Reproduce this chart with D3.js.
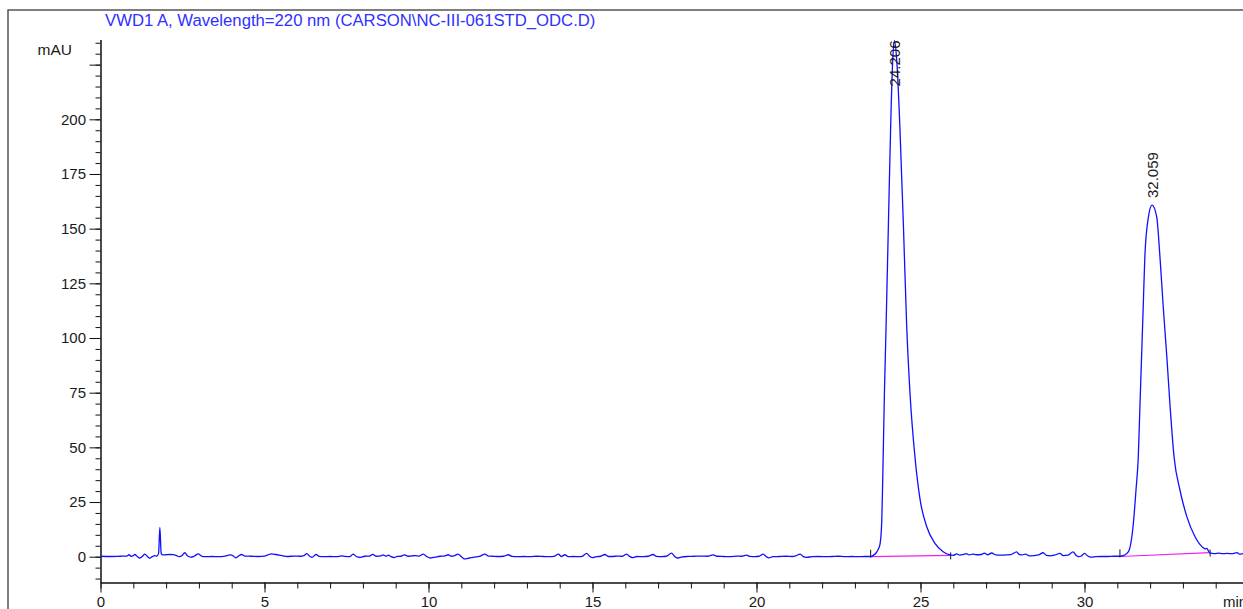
<!DOCTYPE html>
<html>
<head>
<meta charset="utf-8">
<script src="https://cdn.jsdelivr.net/npm/d3@7"></script>
<style>
    body { margin: 0; background: #fff; }
    svg { display: block; font-family: "Liberation Sans", Arial, sans-serif; }
</style>
</head>
<body>
<div class="chart"></div>
<script>
// detector trace: [minutes, mAU]
var trace = [
    [0, 0.2], [0.3, 0.1], [0.6, 0.2], [0.8, 0.3], [0.87, 0.9], [0.93, 0.2], [1.0, 0.5], [1.05, 1.0],
    [1.12, 0.1], [1.2, -0.6], [1.28, 0.2], [1.35, 1.2], [1.43, 0.1], [1.5, -0.7], [1.58, 0.0], [1.65, 0.5],
    [1.72, 0.3], [1.77, 1.5], [1.81, 13.4], [1.85, 1.5], [1.9, 0.8], [2.0, 0.9], [2.1, 1.0], [2.2, 0.9],
    [2.3, 0.6], [2.4, 0.0], [2.48, 0.4], [2.57, 1.8], [2.65, 0.4], [2.75, -0.2], [2.85, 0.2], [2.98, 1.3],
    [3.08, 0.3], [3.2, 0.0], [3.4, 0.1], [3.6, 0.0], [3.8, 0.3], [3.95, 0.8], [4.05, 0.3], [4.12, -0.5],
    [4.2, 0.2], [4.3, 1.0], [4.4, 0.3], [4.6, 0.2], [4.8, 0.1], [5.0, 0.3], [5.1, 0.8], [5.2, 1.3],
    [5.35, 1.0], [5.5, 0.6], [5.7, 0.1], [5.9, 0.3], [6.1, 0.2], [6.2, 0.5], [6.29, 1.4], [6.38, 0.2],
    [6.45, -0.3], [6.57, 1.0], [6.67, 0.1], [6.8, 0.0], [7.0, 0.1], [7.2, 0.0], [7.35, 0.4], [7.45, 0.1],
    [7.6, 0.0], [7.7, 1.2], [7.8, 0.1], [7.9, -0.3], [8.05, 0.2], [8.2, 0.3], [8.3, 1.1], [8.4, 0.2],
    [8.55, 0.4], [8.62, 0.8], [8.7, 0.2], [8.78, 0.7], [8.86, 0.0], [8.95, -0.4], [9.05, 0.1], [9.15, 0.2],
    [9.27, 0.8], [9.38, 0.2], [9.5, 0.4], [9.6, 0.5], [9.72, 0.3], [9.84, 1.2], [9.95, 0.1], [10.05, -0.6],
    [10.2, -0.2], [10.35, 0.2], [10.5, 0.4], [10.6, 0.9], [10.7, 0.2], [10.8, 0.5], [10.9, 1.2], [11.0, 0.0],
    [11.1, -1.0], [11.25, -0.6], [11.4, -0.2], [11.55, 0.1], [11.72, 1.2], [11.82, 0.3], [11.95, 0.2], [12.1, 0.1],
    [12.3, 0.2], [12.43, 0.9], [12.55, 0.1], [12.7, 0.0], [12.9, 0.1], [13.1, 0.0], [13.3, 0.2], [13.5, 0.1],
    [13.7, 0.0], [13.85, 0.3], [13.96, 1.2], [14.05, 0.1], [14.16, 0.9], [14.26, 0.0], [14.4, 0.1], [14.6, 0.0],
    [14.7, 0.3], [14.82, 1.5], [14.92, 0.1], [15.0, -0.4], [15.12, 0.0], [15.25, 0.2], [15.38, 1.0], [15.48, 0.1],
    [15.6, 0.1], [15.75, 0.3], [15.9, 0.2], [16.04, 1.2], [16.14, 0.0], [16.22, -0.4], [16.35, 0.1], [16.55, 0.0],
    [16.7, 0.2], [16.85, 1.0], [16.95, 0.1], [17.1, 0.0], [17.25, 0.2], [17.41, 1.6], [17.5, 0.2], [17.58, -0.6],
    [17.7, -0.2], [17.9, 0.1], [18.1, 0.2], [18.3, 0.3], [18.5, 0.2], [18.68, 0.8], [18.8, 0.2], [19.0, 0.1],
    [19.2, 0.0], [19.4, 0.3], [19.55, 0.2], [19.7, 0.7], [19.8, 0.1], [19.95, 0.0], [20.08, 0.2], [20.2, 1.2],
    [20.3, 0.0], [20.38, -0.5], [20.5, 0.0], [20.7, 0.1], [20.9, 0.2], [21.1, 0.1], [21.2, 0.4], [21.33, 1.2],
    [21.43, 0.0], [21.52, -0.3], [21.7, 0.0], [21.9, 0.1], [22.1, 0.0], [22.3, 0.1], [22.5, 0.2], [22.7, 0.0],
    [22.9, 0.1], [23.1, 0.0], [23.3, 0.1], [23.48, 0.1], [23.56, 0.6], [23.65, 1.8], [23.72, 3.6], [23.77, 6.1],
    [23.82, 16.8], [23.85, 36.6], [23.90, 74.7], [23.95, 105], [24.02, 151], [24.09, 196.6], [24.15, 226], [24.206, 236],
    [24.28, 226], [24.37, 197], [24.48, 151], [24.58, 105], [24.68, 74.7], [24.84, 44.2], [24.99, 25.9], [25.19, 13.7],
    [25.44, 6.1], [25.69, 2.3], [25.9, 0.8], [26.0, 0.6], [26.1, 1.3], [26.2, 0.7], [26.3, 1.0], [26.4, 1.4],
    [26.48, 0.8], [26.6, 1.2], [26.7, 0.9], [26.85, 1.0], [26.95, 1.6], [27.05, 0.9], [27.17, 1.7], [27.3, 0.8],
    [27.45, 0.7], [27.6, 0.8], [27.75, 0.9], [27.93, 2.2], [28.02, 0.9], [28.1, 0.8], [28.2, 1.2], [28.32, 0.4],
    [28.45, 0.5], [28.6, 0.8], [28.74, 1.8], [28.84, 0.6], [28.95, 0.4], [29.1, 0.8], [29.25, 1.5], [29.35, 0.5],
    [29.5, 0.7], [29.65, 2.2], [29.75, 0.5], [29.82, 0.0], [29.9, 0.3], [30.0, 1.5], [30.1, 0.3], [30.2, -0.2],
    [30.35, 0.0], [30.5, 0.1], [30.7, 0.1], [30.9, 0.2], [31.08, 0.2], [31.2, 0.6], [31.34, 2.3], [31.49, 15.3],
    [31.57, 30.5], [31.64, 45.7], [31.69, 68.6], [31.74, 91.4], [31.79, 114.3], [31.84, 137.2], [31.95, 155.5], [32.059, 160.8],
    [32.2, 155.5], [32.3, 137.2], [32.4, 114.3], [32.51, 91.4], [32.61, 68.6], [32.73, 45.7], [32.91, 30.5], [33.12, 18.3],
    [33.37, 9.1], [33.58, 4.6], [33.68, 3.6], [33.73, 3.8], [33.78, 2.6], [33.83, 1.6], [33.95, 1.4], [34.1, 1.6],
    [34.2, 1.4], [34.35, 1.5], [34.5, 1.4], [34.65, 1.9], [34.72, 1.2], [34.85, 1.5]
];

var peakTimes = [24.206, 32.059];
var peakHeights = [236, 160.8];
var peakLabels = ['24.206', '32.059'];

// integration baselines: start/end time and level of each peak
var baseStartTimes = [23.48, 31.08];
var baseStartValues = [0.0, 0.1];
var baseEndTimes = [25.92, 33.83];
var baseEndValues = [0.6, 1.9];

var xMajorTicks = [0, 5, 10, 15, 20, 25, 30];
var xMinorTicks = d3.range(0, 35, 1);
var yMajorTicks = [0, 25, 50, 75, 100, 125, 150, 175, 200, 225];
var yMinorTicks = d3.range(-10, 240, 5);

var title = 'VWD1 A, Wavelength=220 nm (CARSON\\NC-III-061STD_ODC.D)';

(function () {
    var options = {
        width: 1243,
        height: 609,
        left: 100.5,
        right: 1248.5,
        top: 39.5,
        bottom: 582.5
    };

    var svg = d3.select('.chart')
        .append('svg')
        .attr('width', options.width)
        .attr('height', options.height);

    var x = d3.scaleLinear()
        .domain([0, 35])
        .range([options.left, options.right]);

    var y = d3.scaleLinear()
        .domain([-11.8, 236.5])
        .range([options.bottom, options.top]);

    // outer frame (only top and left edges are inside the window)
    svg.append('path')
        .attr('d', 'M8,' + (options.height + 5) + 'V10H' + (options.width + 5))
        .attr('fill', 'none')
        .attr('stroke', '#555')
        .attr('stroke-width', 1.5);

    svg.append('text')
        .attr('x', 105)
        .attr('y', 26)
        .attr('font-size', '16.7px')
        .attr('fill', '#3030ff')
        .text(title);

    // y axis
    var yMinor = svg.append('g')
        .attr('transform', 'translate(' + options.left + ',0)')
        .call(d3.axisLeft(y).tickValues(yMinorTicks).tickSize(5).tickSizeOuter(0).tickFormat(''));

    var yMajor = svg.append('g')
        .attr('transform', 'translate(' + options.left + ',0)')
        .call(d3.axisLeft(y).tickValues(yMajorTicks).tickSize(11).tickSizeOuter(0).tickPadding(3.5)
            .tickFormat(function (d) { return d === 225 ? '' : d; }));

    // x axis
    var xMinor = svg.append('g')
        .attr('transform', 'translate(0,' + options.bottom + ')')
        .call(d3.axisBottom(x).tickValues(xMinorTicks).tickSize(6).tickSizeOuter(0).tickFormat(''));

    var xMajor = svg.append('g')
        .attr('transform', 'translate(0,' + options.bottom + ')')
        .call(d3.axisBottom(x).tickValues(xMajorTicks).tickSize(10).tickSizeOuter(0).tickPadding(4));

    [yMinor, yMajor, xMinor, xMajor].forEach(function (g) {
        g.selectAll('path, line').attr('stroke', '#111');
        g.selectAll('text')
            .attr('font-family', '"Liberation Sans", Arial, sans-serif')
            .attr('font-size', '15px')
            .attr('fill', '#1a1a1a');
    });

    svg.append('text')
        .attr('x', 72)
        .attr('y', 55)
        .attr('text-anchor', 'end')
        .attr('font-size', '15.5px')
        .attr('fill', '#1a1a1a')
        .text('mAU');

    svg.append('text')
        .attr('x', 1223)
        .attr('y', 607)
        .attr('font-size', '15px')
        .attr('fill', '#1a1a1a')
        .text('min');

    // integration baselines
    var bases = svg.append('g');
    baseStartTimes.forEach(function (t0, i) {
        var x0 = x(t0), y0 = y(baseStartValues[i]);
        var x1 = x(baseEndTimes[i]), y1 = y(baseEndValues[i]);

        bases.append('line')
            .attr('x1', x0).attr('y1', y0)
            .attr('x2', x1).attr('y2', y1)
            .attr('stroke', '#f020f0')
            .attr('stroke-width', 1.2);

        bases.append('line')
            .attr('x1', x0).attr('y1', y0 - 7)
            .attr('x2', x0).attr('y2', y0 + 1)
            .attr('stroke', '#111');

        bases.append('line')
            .attr('x1', x1).attr('y1', y1 - 3)
            .attr('x2', x1).attr('y2', y1 + 4)
            .attr('stroke', '#111');
    });

    var line = d3.line()
        .x(function (d) { return x(d[0]); })
        .y(function (d) { return y(d[1]); })
        .curve(d3.curveMonotoneX);

    svg.append('path')
        .datum(trace)
        .attr('d', line)
        .attr('fill', 'none')
        .attr('stroke', '#1010ff')
        .attr('stroke-width', 1.3)
        .attr('stroke-linejoin', 'round');

    // retention time labels, pushed down when they would leave the plot
    peakTimes.forEach(function (t, i) {
        var px = x(t);
        var label = svg.append('text')
            .attr('font-size', '15px')
            .attr('fill', '#1a1a1a')
            .text(peakLabels[i]);
        var len = label.node().getComputedTextLength();
        var start = Math.max(y(peakHeights[i]) - 7, options.top + len + 1);
        label.attr('transform', 'translate(' + (px + 5.5) + ',' + start + ') rotate(-90)');
    });
})();
</script>
</body>
</html>
